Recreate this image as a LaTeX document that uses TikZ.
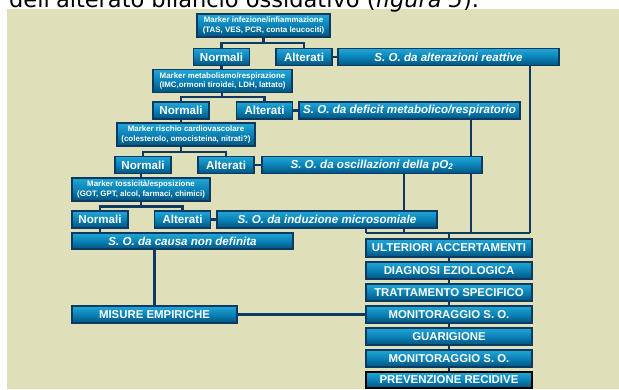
\documentclass[tikz,border=0pt]{standalone}
\usepackage{fontspec}
\setmainfont{Liberation Sans}
\newfontfamily\topfont{DejaVu Sans}
\usetikzlibrary{calc}
\definecolor{panel}{HTML}{DFDFB9}
\definecolor{navy}{HTML}{0C3A63}
\definecolor{btop}{HTML}{22A6D6}
\definecolor{bmid}{HTML}{0A82B6}
\definecolor{bbot}{HTML}{00527C}
\pgfdeclarelayer{bg}
\pgfsetlayers{bg,main}
\tikzset{
  box/.style={draw=navy, line width=1.9pt, top color=btop, bottom color=bbot, middle color=bmid,
    text=white, font=\bfseries, inner sep=0pt, align=center},
  mk/.style={box, font=\bfseries\fontsize{7.9}{9.6}\selectfont, minimum height=23pt},
  nb/.style={box, font=\bfseries\fontsize{11.6}{13}\selectfont, minimum height=17pt, minimum width=56pt},
  sob/.style={box, font=\bfseries\itshape\fontsize{11.6}{13}\selectfont, minimum height=17pt, minimum width=221pt},
  colb/.style={box, font=\bfseries\fontsize{11.4}{13}\selectfont, minimum height=17pt, minimum width=166pt},
  conn/.style={navy, line width=2.8pt},
}
\begin{document}
\begin{tikzpicture}[x=1pt,y=-1pt]
\useasboundingbox (0,0) rectangle (619,389);
\clip (0,0) rectangle (619,389);
\node[anchor=base west, inner sep=0pt, font=\topfont\fontsize{22.5}{27}\selectfont] (title) at (9,7.5) {dell'alterato bilancio ossidativo (\textit{figura 5}).};
\begin{pgfonlayer}{bg}
\fill[panel] (7,9) rectangle (619,389);
\end{pgfonlayer}
% level 1
\node[mk, minimum width=133pt] (m1) at (263.5,25.5) {Marker infezione/infiammazione\\(TAS, VES, PCR, conta leucociti)};
\node[nb] (n1) at (221.5,57) {Normali};
\node[nb] (a1) at (304,57) {Alterati};
\node[sob] (s1) at (448.5,57) {S. O. da alterazioni reattive};
% level 2
\node[mk, minimum width=139pt] (m2) at (222.5,81) {Marker metabolismo/respirazione\\(IMC,ormoni tiroidei, LDH, lattato)};
\node[nb] (n2) at (181,110.5) {Normali};
\node[nb] (a2) at (264.5,110.5) {Alterati};
\node[sob] (s2) at (409.5,110.5) {S. O. da deficit metabolico/respiratorio};
% level 3
\node[mk, minimum width=138pt] (m3) at (186,134.5) {Marker rischio cardiovascolare\\(colesterolo, omocisteina, nitrati?)};
\node[nb] (n3) at (143,165) {Normali};
\node[nb] (a3) at (226,165) {Alterati};
\node[sob, minimum width=220pt] (s3) at (372,165) {S. O. da oscillazioni della pO\textsubscript{2}};
% level 4
\node[mk, minimum width=138pt] (m4) at (141,189.5) {Marker tossicità/esposizione\\(GOT, GPT, alcol, farmaci, chimici)};
\node[nb] (n4) at (100,219.5) {Normali};
\node[nb] (a4) at (182.5,219.5) {Alterati};
\node[sob, minimum width=220pt] (s4) at (327,219.5) {S. O. da induzione microsomiale};
\node[sob, minimum height=16pt] (s5) at (182.5,241) {S. O. da causa non definita};
\node[colb, minimum width=165pt] (mis) at (154.5,314.5) {MISURE EMPIRICHE};
% column
\node[colb, minimum height=18pt] (c1) at (449,248) {ULTERIORI ACCERTAMENTI};
\node[colb] (c2) at (449,270.5) {DIAGNOSI EZIOLOGICA};
\node[colb] (c3) at (449,292.5) {TRATTAMENTO SPECIFICO};
\node[colb] (c4) at (449,314.5) {MONITORAGGIO S. O.};
\node[colb] (c5) at (449,336.5) {GUARIGIONE};
\node[colb] (c6) at (449,358.5) {MONITORAGGIO S. O.};
\node[colb, draw=black, line width=2.4pt, minimum height=16pt] (c7) at (449,380) {PREVENZIONE RECIDIVE};
% connectors
\coordinate (b1) at (263.5,43);
\coordinate (b2) at (222,97);
\coordinate (b3) at (181,152);
\coordinate (b4) at (141,206.5);
\coordinate (bus) at (449,233);
\begin{pgfonlayer}{bg}
\draw[conn] (m1.south) -- (b1);
\draw[conn] (n1.north) |- (b1) -| (a1.north);
\draw[conn] (a1.east) -- (s1.west);
\draw[conn] (n1.south) -- (n1.south |- m2.north);
\draw[conn] (m2.south -| b2) -- (b2);
\draw[conn] (n2.north) |- (b2) -| (a2.north);
\draw[conn] (a2.east) -- (s2.west);
\draw[conn] (n2.south) -- (n2.south |- m3.north);
\draw[conn] (m3.south -| b3) -- (b3);
\draw[conn] (n3.north) |- (b3) -| (a3.north);
\draw[conn] (a3.east) -- (s3.west);
\draw[conn] (n3.south -| m4.north) -- (m4.north);
\draw[conn] (m4.south) -- (b4);
\draw[conn] (n4.north) |- (b4) -| (a4.north);
\draw[conn] (a4.east) -- (s4.west);
\draw[conn] (n4.south) -- (n4.south |- s5.north);
\draw[conn] (mis.north |- s5.south) -- (mis.north);
\draw[conn] (mis.east) -- (c4.west);
% vertical drops to bus
\draw[conn] ($(s1.south west)+(193,0)$) coordinate (d1) -- (d1 |- bus);
\draw[conn] ($(s2.south west)+(173,0)$) coordinate (d2) -- (d2 |- bus);
\draw[conn] ($(s3.south west)+(143,0)$) coordinate (d3) -- (d3 |- bus);
\draw[conn] ($(s4.south west)+(150,0)$) coordinate (d4) -- (d4 |- bus);
\draw[conn] (d4 |- bus) -- (d1 |- bus);
\draw[conn] (bus) -- (c1.north);
\draw[conn] (c1) -- (c2) -- (c3) -- (c4) -- (c5) -- (c6) -- (c7);
\end{pgfonlayer}
\end{tikzpicture}
\end{document}
